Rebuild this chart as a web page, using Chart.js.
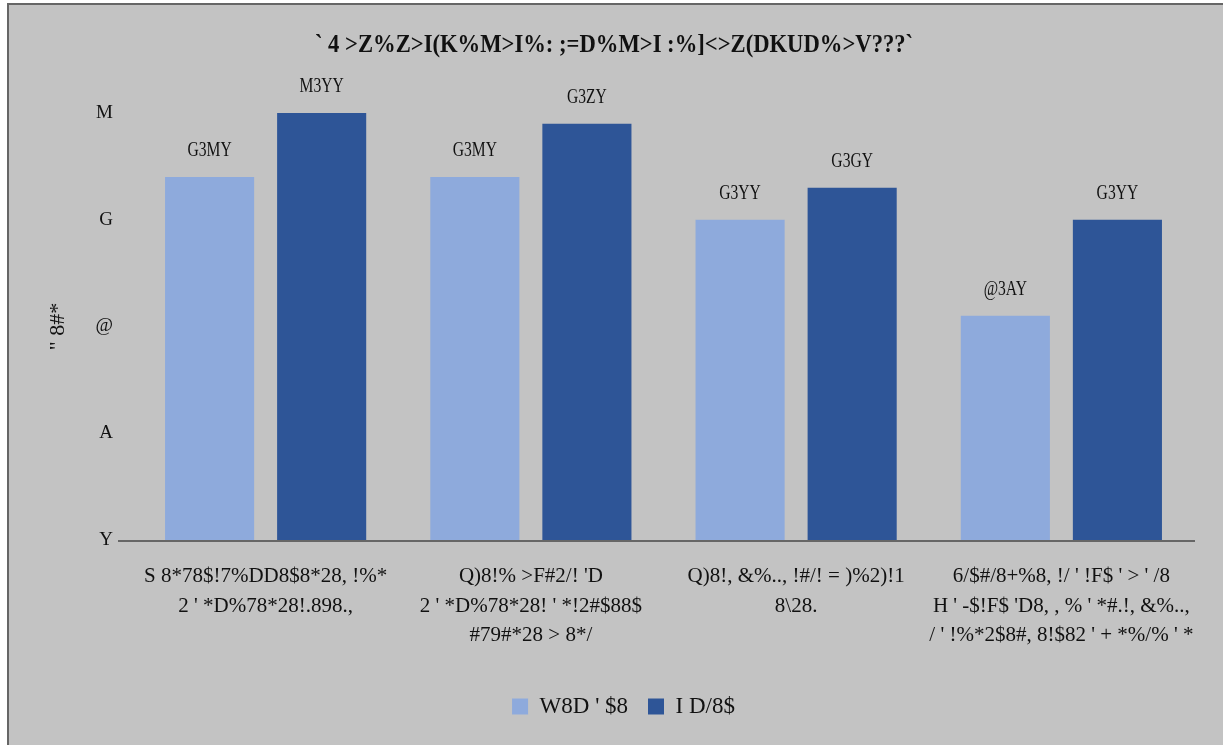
<!DOCTYPE html>
<html>
<head>
<meta charset="utf-8">
<script src="https://cdn.jsdelivr.net/npm/chart.js@4.4.1/dist/chart.umd.min.js"></script>
<style>
  html, body { margin: 0; padding: 0; background: #ffffff; }
  #wrap { width: 1223px; height: 745px; }
</style>
</head>
<body>
<div id="wrap"><canvas id="chart"></canvas></div>
<script>
const categories = [
    ['S 8*78$!7%DD8$8*28, !%*', '2 \' *D%78*28!.898.,'],
    ['Q)8!% >F#2/! \'D', '2 \' *D%78*28! \' *!2#$88$', '#79#*28 > 8*/'],
    ['Q)8!, &%.., !#/! = )%2)!1', '8\\28.'],
    ['6/$#/8+%8, !/ \' !F$ \' > \' /8', 'H \' -$!F$ \'D8, , % \' *#.!, &%..,', '/ \' !%*2$8#, 8!$82 \' + *%/% \' *']
];
const seriesNames = ['W8D \' $8', 'I D/8$'];
const lightValues = [3.4, 3.4, 3.0, 2.1];
const darkValues = [4.0, 3.9, 3.3, 3.0];
const lightLabels = ['G3MY', 'G3MY', 'G3YY', '@3AY'];
const darkLabels = ['M3YY', 'G3ZY', 'G3GY', 'G3YY'];
const yTickLabels = ['Y', 'A', '@', 'G', 'M'];
const yTitle = '" 8#*';
const chartTitle = '` 4 >Z%Z>I(K%M>I%: ;=D%M>I :%]<>Z(DKUD%>V???`';

const FONT = "'Liberation Serif', 'Times New Roman', serif";

// fond gris + cadre + titre
const panel = {
    id: 'panel',
    beforeDraw(chart) {
        const ctx = chart.ctx;
        ctx.save();
        ctx.fillStyle = '#c3c3c3';
        ctx.fillRect(7, 3, chart.width, chart.height);
        ctx.strokeStyle = '#666666';
        ctx.lineWidth = 2;
        ctx.beginPath();
        ctx.moveTo(8, chart.height);
        ctx.lineTo(8, 4);
        ctx.lineTo(chart.width, 4);
        ctx.stroke();
        // titre (un peu condensé comme l'original)
        ctx.fillStyle = '#111111';
        ctx.font = 'bold 26px ' + FONT;
        ctx.textAlign = 'center';
        ctx.textBaseline = 'middle';
        ctx.translate(614, 45);
        ctx.scale(0.87, 1);
        ctx.fillText(chartTitle, 0, 0);
        ctx.restore();
    },
    afterDatasetsDraw(chart) {
        const ctx = chart.ctx;
        const a = chart.chartArea;
        ctx.save();
        ctx.strokeStyle = '#666666';
        ctx.lineWidth = 2;
        ctx.beginPath();
        ctx.moveTo(118, a.bottom + 1);
        ctx.lineTo(a.right + 1, a.bottom + 1);
        ctx.stroke();
        ctx.restore();
    }
};

// étiquettes au-dessus des barres
const barLabels = {
    id: 'barLabels',
    afterDatasetsDraw(chart) {
        const ctx = chart.ctx;
        const texts = [lightLabels, darkLabels];
        ctx.save();
        ctx.font = '20px ' + FONT;
        ctx.fillStyle = '#111111';
        ctx.textAlign = 'center';
        ctx.textBaseline = 'middle';
        chart.data.datasets.forEach((ds, i) => {
            chart.getDatasetMeta(i).data.forEach((bar, j) => {
                ctx.save();
                ctx.translate(bar.x, bar.y - 26);
                ctx.scale(0.78, 1);
                ctx.fillText(texts[i][j], 0, 0);
                ctx.restore();
            });
        });
        ctx.restore();
    }
};

new Chart(document.getElementById('chart'), {
    type: 'bar',
    data: {
        labels: categories,
        datasets: [
            {
                label: seriesNames[0],
                data: lightValues,
                backgroundColor: '#8eaadc',
                categoryPercentage: 0.845,
                barPercentage: 0.795
            },
            {
                label: seriesNames[1],
                data: darkValues,
                backgroundColor: '#2e5597',
                categoryPercentage: 0.845,
                barPercentage: 0.795
            }
        ]
    },
    options: {
        responsive: true,
        maintainAspectRatio: false,
        animation: false,
        layout: { padding: { left: 24, right: 0, top: 113, bottom: 17 } },
        plugins: {
            title: { display: false },
            legend: {
                position: 'bottom',
                labels: {
                    color: '#111111',
                    font: { family: FONT, size: 23 },
                    boxWidth: 16,
                    boxHeight: 16,
                    padding: 20
                }
            },
            tooltip: { enabled: false }
        },
        scales: {
            x: {
                grid: { display: false },
                border: { display: false },
                ticks: {
                    color: '#111111',
                    font: { family: FONT, size: 21, lineHeight: 1.4 },
                    padding: 14,
                    maxRotation: 0,
                    autoSkip: false
                },
                afterFit(scale) { scale.height = 135; }
            },
            y: {
                min: 0,
                max: 4,
                grid: { display: false },
                border: { display: false },
                ticks: {
                    stepSize: 1,
                    color: '#111111',
                    font: { family: FONT, size: 19 },
                    padding: 12,
                    callback: (v, i) => yTickLabels[i]
                },
                title: {
                    display: true,
                    text: yTitle,
                    color: '#111111',
                    font: { family: FONT, size: 22 },
                    padding: { top: 21, bottom: 0 }
                },
                afterFit(scale) { scale.width = 109; }
            },
            y2: {
                position: 'right',
                display: true,
                grid: { display: false },
                border: { display: false },
                ticks: { display: false },
                afterFit(scale) { scale.width = 29; }
            }
        }
    },
    plugins: [panel, barLabels]
});
</script>
</body>
</html>
